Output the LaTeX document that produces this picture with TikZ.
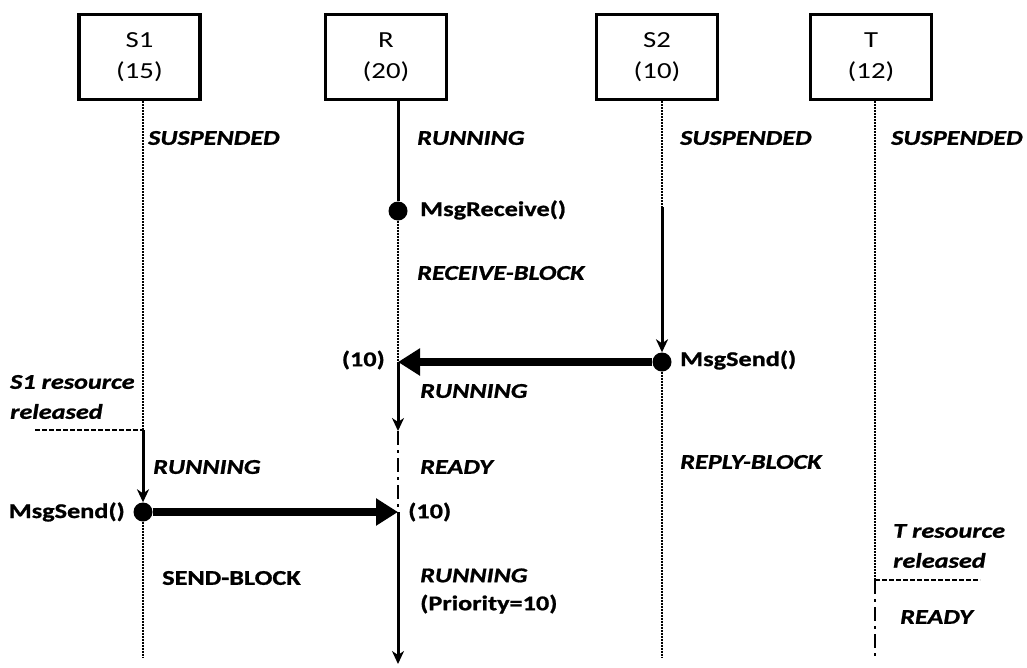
\documentclass[tikz,border=0pt]{standalone}
\usepackage{fontspec}
\setmainfont{Carlito}[FakeStretch=1.25,
  BoldFeatures={FakeBold=1}, BoldItalicFeatures={FakeBold=1}]
\usetikzlibrary{arrows.meta}

\begin{document}
\begin{tikzpicture}[x=1pt, y=-1pt,
  every node/.style={inner sep=0pt},
  task/.style={draw, line width=3.5pt, minimum width=121pt, minimum height=85pt,
    align=center, font=\fontsize{23}{31}\selectfont},
  state/.style={anchor=west, align=left, font=\fontsize{21}{30}\selectfont\bfseries\itshape},
  call/.style={anchor=west, align=left, font=\fontsize{21}{28}\selectfont\bfseries},
  msgdot/.style={circle, fill, minimum size=19pt},
  idle/.style={line width=2.5pt, dash pattern=on 2pt off 1pt},
  readyline/.style={line width=2.5pt, dash pattern=on 14pt off 5pt on 3pt off 5pt},
  released/.style={line width=1.8pt, dash pattern=on 5pt off 2pt},
  run/.style={line width=3pt},
  runto/.style={line width=3pt, -{Stealth[length=13pt, width=12pt, inset=4pt]}},
  msg/.style={line width=7.5pt, -{Triangle[length=22pt, width=26pt]}}]
  \useasboundingbox (0,0) rectangle (1027,667);
  % tasks
  \node[task] (s1) at (139.5,57) {S1\\(15)};
  \node[task] (r)  at (386,57)   {R\\(20)};
  \node[task] (s2) at (657,57)   {S2\\(10)};
  \node[task] (t)  at (871,57)   {T\\(12)};
  % points on the lifelines
  \coordinate (s1a) at (143,101);
  \coordinate (s1b) at (143,430);
  \coordinate (s1rel) at (35,430);
  \node[msgdot] (s1send) at (143,512) {};
  \coordinate (s1end) at (143,658);
  \coordinate (ra) at (398,101);
  \node[msgdot] (rrecv) at (398,211) {};
  \coordinate (rin) at (398,362);
  \coordinate (rready) at (398,431);
  \coordinate (rgo) at (398,512);
  \coordinate (rend) at (398,664);
  \coordinate (s2a) at (662,101);
  \coordinate (s2b) at (662,207);
  \node[msgdot] (s2send) at (662,362) {};
  \coordinate (s2end) at (662,658);
  \coordinate (ta) at (875,101);
  \coordinate (tb) at (875,580);
  \coordinate (trel) at (980,580);
  \coordinate (tend) at (875,658);
  % S1
  \draw[idle] (s1a) -- (s1b);
  \draw[released] (s1rel) -- (s1b);
  \draw[runto] (s1b) -- (s1send.north);
  \draw[idle] (s1send) -- (s1end);
  % R
  \draw[run] (ra) -- (rrecv);
  \draw[idle] (rrecv) -- (rin);
  \draw[runto] (rin) -- (rready);
  \draw[readyline] (rready) -- (rgo);
  \draw[runto] (rgo) -- (rend);
  % S2
  \draw[idle] (s2a) -- (s2b);
  \draw[runto] (s2b) -- (s2send.north);
  \draw[idle] (s2send) -- (s2end);
  % T
  \draw[idle] (ta) -- (tb);
  \draw[released] (tb) -- (trel);
  \draw[readyline] (tb) -- (tend);
  % messages
  \draw[msg] (s2send) -- (rin);
  \draw[msg] (s1send) -- (rgo);
  % states and calls
  \node[state] (s1susp) at (148,138) {SUSPENDED};
  \node[state] (rrun1) at (417,138) {RUNNING};
  \node[state] (s2susp) at (680,138) {SUSPENDED};
  \node[state] (tsusp) at (891,138) {SUSPENDED};
  \node[call] (recvlbl) at (420,210) {MsgReceive()};
  \node[state] (rblock) at (417,273) {RECEIVE-BLOCK};
  \node[call, anchor=east] (rprio1) at (385,360) {(10)};
  \node[call] (s2lbl) at (680,360) {MsgSend()};
  \node[state] (rrun2) at (420,391) {RUNNING};
  \node[state] (s1note) at (10,397) {S1 resource\\released};
  \node[state] (s1run) at (153,467) {RUNNING};
  \node[state] (rready1) at (420,467) {READY};
  \node[state] (s2block) at (680,462) {REPLY-BLOCK};
  \node[call, anchor=east] (s1lbl) at (125,512) {MsgSend()};
  \node[call] (rprio2) at (408,512) {(10)};
  \node[call] (s1block) at (162,578) {SEND-BLOCK};
  \node[call] (rrun3) at (420,591) {\itshape RUNNING\\(Priority=10)};
  \node[state] (tnote) at (893,546) {T resource\\released};
  \node[state] (tready) at (900,617) {READY};
\end{tikzpicture}
\end{document}
